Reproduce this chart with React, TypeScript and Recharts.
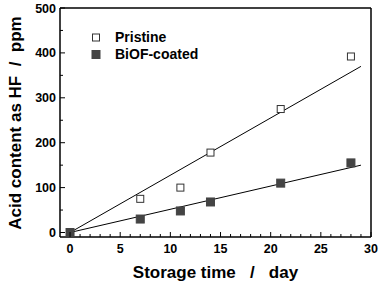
import React from "react"
import {
  ComposedChart,
  Scatter,
  XAxis,
  YAxis,
  ReferenceLine,
  Label,
} from "recharts"

const days = [0, 7, 11, 14, 21, 28]
const pristine = [0, 75, 100, 178, 275, 392]
const coated = [0, 30, 48, 68, 110, 155]

// fitted lines (start / end)
const fitDays = [0, 29]
const pristineFit = [0, 370]
const coatedFit = [0, 150]

const xTicks = Array.from({ length: 31 }, (_, i) => i)
const yTicks = [0, 50, 100, 150, 200, 250, 300, 350, 400, 450, 500]

const pristineData = days.map((d, i) => ({ x: d, y: pristine[i] }))
const coatedData = days.map((d, i) => ({ x: d, y: coated[i] }))

const FONT = "Arial, 'Liberation Sans', Helvetica, sans-serif"

const Square = (props: any) => {
  const { cx, cy, filled } = props
  if (cx == null || cy == null) return null
  const s = filled ? 8 : 7
  return (
    <rect
      x={cx - s / 2}
      y={cy - s / 2}
      width={s}
      height={s}
      fill={filled ? "#444" : "#fff"}
      stroke={filled ? "#444" : "#333"}
      strokeWidth={1}
    />
  )
}

const BottomTick = (props: any) => {
  const { x, y, payload } = props
  const major = payload.value % 5 === 0
  return (
    <g>
      <line x1={x} y1={y} x2={x} y2={y - (major ? 5 : 3)} stroke="#000" />
      {major && (
        <text x={x} y={y + 16} textAnchor="middle" fontFamily={FONT} fontWeight="bold" fontSize={12.5} fill="#000">
          {payload.value}
        </text>
      )}
    </g>
  )
}

const TopTick = (props: any) => {
  const { x, y, payload } = props
  const major = payload.value % 5 === 0
  return <line x1={x} y1={y} x2={x} y2={y + (major ? 5 : 3)} stroke="#000" />
}

const LeftTick = (props: any) => {
  const { x, y, payload } = props
  const major = payload.value % 100 === 0
  return (
    <g>
      <line x1={x} y1={y} x2={x + (major ? 5 : 3)} y2={y} stroke="#000" />
      {major && (
        <text x={x - 4} y={y + 4.5} textAnchor="end" fontFamily={FONT} fontWeight="bold" fontSize={12.5} fill="#000">
          {payload.value}
        </text>
      )}
    </g>
  )
}

const RightTick = (props: any) => {
  const { x, y, payload } = props
  const major = payload.value % 100 === 0
  return <line x1={x} y1={y} x2={x - (major ? 5 : 3)} y2={y} stroke="#000" />
}

const legendItems = [
  { name: "Pristine", filled: false },
  { name: "BiOF-coated", filled: true },
]

const LegendBox = () => (
  <div
    style={{
      position: "absolute",
      left: 87,
      top: 29,
      fontFamily: FONT,
      fontWeight: "bold",
      fontSize: 14,
      color: "#000",
      lineHeight: "17px",
    }}
  >
    {legendItems.map((e) => (
      <div key={e.name} style={{ display: "flex", alignItems: "center" }}>
        <svg width={18} height={17}>
          <Square cx={9} cy={8.5} filled={e.filled} />
        </svg>
        <span style={{ marginLeft: 10 }}>{e.name}</span>
      </div>
    ))}
  </div>
)

export default function App() {
  return (
    <div style={{ position: "absolute", left: 0, top: 0, width: 380, height: 285, background: "#fff" }}>
      <ComposedChart width={380} height={285} margin={{ top: 7, right: 8, bottom: 0, left: 0 }}>
        <XAxis
          xAxisId="b"
          type="number"
          dataKey="x"
          domain={[-1, 30]}
          ticks={xTicks}
          interval={0}
          tickSize={0}
          tickMargin={0}
          tickLine={false}
          tick={<BottomTick />}
          height={48}
          stroke="#000"
          strokeWidth={1.5}
        >
          <Label
            content={(p: any) => {
              const vb = p.viewBox
              return (
                <text
                  x={vb.x + vb.width / 2}
                  y={278}
                  textAnchor="middle"
                  fontFamily={FONT}
                  fontWeight="bold"
                  fontSize={17}
                  fill="#000"
                  style={{ whiteSpace: "pre" }}
                >
                  {"Storage time   /   day"}
                </text>
              )
            }}
          />
        </XAxis>
        <XAxis
          xAxisId="t"
          orientation="top"
          type="number"
          dataKey="x"
          domain={[-1, 30]}
          ticks={xTicks}
          interval={0}
          tickSize={0}
          tickMargin={0}
          tickLine={false}
          tick={<TopTick />}
          height={1}
          stroke="#000"
          strokeWidth={1.5}
        />
        <YAxis
          yAxisId="l"
          type="number"
          dataKey="y"
          domain={[-10, 500]}
          ticks={yTicks}
          interval={0}
          tickSize={0}
          tickMargin={0}
          tickLine={false}
          tick={<LeftTick />}
          width={60}
          stroke="#000"
          strokeWidth={1.5}
        >
          <Label
            content={() => (
              <text
                x={0}
                y={0}
                transform="translate(21,123) rotate(-90)"
                textAnchor="middle"
                fontFamily={FONT}
                fontWeight="bold"
                fontSize={17}
                fill="#000"
                style={{ whiteSpace: "pre" }}
              >
                {"Acid content as HF  /  ppm"}
              </text>
            )}
          />
        </YAxis>
        <YAxis
          yAxisId="r"
          orientation="right"
          type="number"
          dataKey="y"
          domain={[-10, 500]}
          ticks={yTicks}
          interval={0}
          tickSize={0}
          tickMargin={0}
          tickLine={false}
          tick={<RightTick />}
          width={1}
          stroke="#000"
          strokeWidth={1.5}
        />
        <ReferenceLine
          xAxisId="b"
          yAxisId="l"
          segment={[
            { x: fitDays[0], y: pristineFit[0] },
            { x: fitDays[1], y: pristineFit[1] },
          ]}
          stroke="#000"
          strokeWidth={1}
        />
        <ReferenceLine
          xAxisId="b"
          yAxisId="l"
          segment={[
            { x: fitDays[0], y: coatedFit[0] },
            { x: fitDays[1], y: coatedFit[1] },
          ]}
          stroke="#000"
          strokeWidth={1}
        />
        <Scatter
          name="Pristine"
          xAxisId="b"
          yAxisId="l"
          data={pristineData}
          shape={(p: any) => <Square {...p} filled={false} />}
          isAnimationActive={false}
        />
        <Scatter
          name="BiOF-coated"
          xAxisId="b"
          yAxisId="l"
          data={coatedData}
          shape={(p: any) => <Square {...p} filled={true} />}
          isAnimationActive={false}
        />
      </ComposedChart>
      <LegendBox />
    </div>
  )
}
